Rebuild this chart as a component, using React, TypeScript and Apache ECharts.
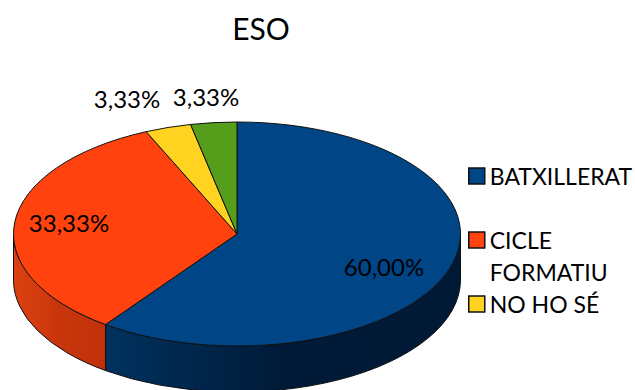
import React, { useEffect, useRef } from "react";
import * as echarts from "echarts";

const titleText = "ESO";
const categories = ["BATXILLERAT", "CICLE FORMATIU", "NO HO SÉ", "ALTRES"];
const values = [60, 33.33, 3.33, 3.33];
const legendCategories = ["BATXILLERAT", "CICLE FORMATIU", "NO HO SÉ"];
const colors = ["#004586", "#ff420e", "#ffd320", "#579d1c"];
const sideStops = [
  ["#00325f", "#001a38", "#001a36"],
  ["#dc4110", "#c9360c", "#c0300a"],
  ["#c9a418", "#c9a418", "#c9a418"],
  ["#44791a", "#44791a", "#44791a"],
];
const labelPositions = [
  [384, 266],
  [69, 222],
  [127, 98],
  [206, 96],
];

const FONT = "Lato, Carlito, sans-serif";
const CX = 237;
const CY = 234;
const RX = 223.5;
const RY = 112;
const DEPTH = 46;
const total = values.reduce((a, b) => a + b, 0);

const pt = (deg: number, dy = 0) => {
  const r = (deg * Math.PI) / 180;
  return [CX + RX * Math.sin(r), CY - RY * Math.cos(r) + dy];
};

const fmt = (v: number) => v.toFixed(2).replace(".", ",") + "%";

function sliceRenderer(index: number) {
  return (_params: any, api: any) => {
    const value = api.value(0);
    const before = values.slice(0, index).reduce((a, b) => a + b, 0);
    const a0 = (before / total) * 360;
    const a1 = ((before + value) / total) * 360;
    const children: any[] = [];
    const s0 = Math.max(a0, 90);
    const s1 = Math.min(a1, 270);
    if (s1 > s0) {
      const p = pt(s0);
      const q = pt(s1);
      const pb = pt(s0, DEPTH);
      const qb = pt(s1, DEPTH);
      const large = s1 - s0 > 180 ? 1 : 0;
      children.push({
        type: "path",
        shape: {
          pathData: `M${p[0]} ${p[1]}A${RX} ${RY} 0 ${large} 1 ${q[0]} ${q[1]}L${qb[0]} ${qb[1]}A${RX} ${RY} 0 ${large} 0 ${pb[0]} ${pb[1]}Z`,
        },
        style: {
          fill: {
            type: "linear",
            x: 0,
            y: 0,
            x2: 1,
            y2: 0,
            colorStops: sideStops[index].map((color, i) => ({ offset: i / 2, color })),
          },
          stroke: "#111",
          lineWidth: 1,
        },
      });
    }
    const a = pt(a0);
    const b = pt(a1);
    children.push({
      type: "path",
      shape: {
        pathData: `M${CX} ${CY}L${a[0]} ${a[1]}A${RX} ${RY} 0 ${a1 - a0 > 180 ? 1 : 0} 1 ${b[0]} ${b[1]}Z`,
      },
      style: { fill: colors[index], stroke: "#111", lineWidth: 1 },
    });
    children.push({
      type: "text",
      x: labelPositions[index][0],
      y: labelPositions[index][1],
      style: {
        text: fmt(value),
        fontFamily: FONT,
        fontSize: 24,
        fill: "#000",
        align: "center",
        verticalAlign: "middle",
      },
    });
    return { type: "group", children };
  };
}

export default function App() {
  const ref = useRef<HTMLDivElement>(null);
  useEffect(() => {
    const chart = echarts.init(ref.current!, null, { renderer: "svg" });
    chart.setOption({
      animation: false,
      backgroundColor: "#fff",
      title: {
        text: titleText,
        left: 256,
        top: 8,
        textAlign: "center",
        textStyle: { fontFamily: FONT, fontSize: 30, fontWeight: "normal", color: "#000" },
      },
      legend: {
        orient: "vertical",
        left: 468,
        top: 160,
        padding: 0,
        itemGap: 0,
        itemWidth: 16,
        itemHeight: 16,
        icon: "rect",
        selectedMode: false,
        data: legendCategories,
        itemStyle: { borderColor: "#111", borderWidth: 1.5 },
        formatter: (name: string) => (name === "CICLE FORMATIU" ? "\nCICLE\nFORMATIU" : name),
        textStyle: { fontFamily: FONT, fontSize: 23, lineHeight: 32, color: "#000" },
      },
      series: values.map((v, i) => ({
        type: "custom",
        name: categories[i],
        coordinateSystem: "none",
        silent: true,
        itemStyle: { color: colors[i] },
        data: [[v]],
        renderItem: sliceRenderer(i),
      })),
    });
    return () => chart.dispose();
  }, []);
  return <div ref={ref} style={{ position: "fixed", left: 0, top: 0, width: 635, height: 390 }} />;
}
